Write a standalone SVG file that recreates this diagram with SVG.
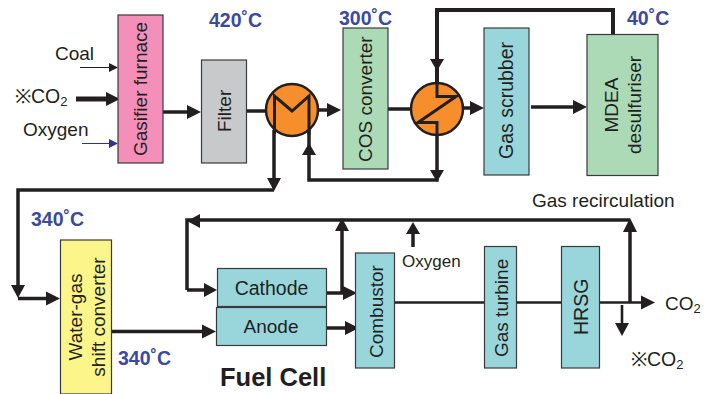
<svg xmlns="http://www.w3.org/2000/svg" width="710" height="394" viewBox="0 0 710 394">
<style>
text{font-family:"Liberation Sans",Arial,sans-serif;font-size:19px;fill:#231f20}
.t{font-weight:bold;fill:#3c4a9e;font-size:19.500px}
.box{stroke:#3a3a3a;stroke-width:1.2}
.c{fill:#98d6dc}
.g{fill:#acdab6}
.l{fill:none;stroke:#231f20;stroke-width:3.5}
.i{fill:none;stroke:#231f20;stroke-width:3}
.m{fill:none;stroke:#231f20;stroke-width:2.6}
.hx{fill:#f68e2b;stroke:#231f20;stroke-width:2.5}
.a{fill:#231f20}
.s{font-size:13px}
</style>
<g id="connectors">
<path d="M80 67.500H112" fill="none" stroke="#231f20" stroke-width="1"/><path class="a" d="M118 67.500l-9-4.500v9z"/>
<path d="M76 99H108" fill="none" stroke="#231f20" stroke-width="5"/><path class="a" d="M120 99l-14-7v14z"/>
<path d="M82 143.500H112" fill="none" stroke="#2b3590" stroke-width="1"/><path fill="#2b3590" d="M118 143.500l-9-4.500v9z"/>
<path class="l" d="M163 112H190"/><path class="a" d="M201 112l-14-7v14z"/>
<path class="l" d="M246 111H266"/>
<path class="l" d="M319 110H330"/><path class="a" d="M341 110l-14-7v14z"/>
<path class="l" d="M388 109H411"/>
<path class="l" d="M463 108H474"/><path class="a" d="M484 108l-14-7v14z"/>
<path class="l" d="M531 107H576"/><path class="a" d="M587 107l-14-7v14z"/>
<path d="M613 34V10H437V85" fill="none" stroke="#231f20" stroke-width="4"/><path class="a" d="M437 71l-7-12h14z"/>
<path class="l" d="M437 130V180H309V130"/><path class="a" d="M437 182l-7-12h14z"/><path class="a" d="M309 143l-7 12h14z"/>
<path class="l" d="M274 130V188M274 190H18V288"/><path class="a" d="M274 191l-7-13h14z"/><path class="a" d="M18 298l-7-13h14z"/>
<path class="l" d="M18 298.500H50"/><path class="a" d="M60 298.500l-14-7v14z"/>
<path class="l" d="M112 331.500H206"/><path class="a" d="M216 331.500l-14-7v14z"/>
<path class="l" d="M630 220H187V290M187 290H208"/><path class="a" d="M187 221l13-7v14z"/><path class="a" d="M217 290l-13-7v14z"/>
<path class="l" d="M323 293H347"/><path class="a" d="M357 293l-14-7v14z"/>
<path class="l" d="M342 293V228"/><path class="a" d="M342 218l-7 13h14z"/>
<path class="l" d="M326 328H349"/><path class="a" d="M359 328l-14-7v14z"/>
<path class="l" d="M413 247V230"/><path class="a" d="M413 222l-7 12h14z"/>
<path class="m" d="M394 302.500H645"/><path class="a" d="M655 302.500l-14-7v14z"/>
<path class="l" d="M630 302V228"/><path class="a" d="M630 218l-7 14h14z"/>
<path class="m" d="M622 305V326"/><path class="a" d="M622 336l-7-13h14z"/>
</g>
<g id="gasifier"><rect class="box" x="118" y="15" width="45" height="148" fill="#f48fb9"/><text transform="translate(147 156) rotate(-90)">Gasifier furnace</text></g>
<g id="filter"><rect class="box" x="201.500" y="60" width="45" height="103" fill="#c8c9cb"/><text transform="translate(231 132) rotate(-90)">Filter</text></g>
<g id="hx1"><circle class="hx" cx="292" cy="110" r="26"/><path class="i" d="M274.500 134V96L292 111L309 96V135"/></g>
<g id="cos"><rect class="box g" x="343" y="28" width="45" height="141"/><text transform="translate(372 162) rotate(-90)">COS converter</text></g>
<g id="hx2"><circle class="hx" cx="437" cy="109" r="26"/><path class="i" d="M437 83V96.500H456L418 122.500H437V135"/></g>
<g id="scrubber"><rect class="box c" x="484" y="28" width="45" height="147"/><text transform="translate(513 159) rotate(-90)" style="font-size:19.500px">Gas scrubber</text></g>
<g id="mdea"><rect class="box g" x="587" y="34.500" width="71" height="141"/><text transform="translate(618 105) rotate(-90)" text-anchor="middle"><tspan x="0" y="0">MDEA</tspan><tspan x="0" y="23">desulfuriser</tspan></text></g>
<g id="watergas"><rect class="box" x="60.500" y="240" width="51" height="154" fill="#fcf58a"/><text transform="translate(82 317) rotate(-90)" text-anchor="middle"><tspan x="0" y="0">Water-gas</tspan><tspan x="0" y="23">shift converter</tspan></text></g>
<g id="cathode"><rect class="box c" x="217.500" y="268.500" width="109" height="38"/><text x="271.500" y="295" text-anchor="middle" style="font-size:19.500px">Cathode</text></g>
<g id="anode"><rect class="box c" x="216.500" y="307.500" width="110" height="38"/><text x="271" y="333" text-anchor="middle">Anode</text></g>
<g id="combustor"><rect class="box c" x="355.500" y="253" width="39" height="115"/><text transform="translate(383 358) rotate(-90)">Combustor</text></g>
<g id="turbine"><rect class="box c" x="484.500" y="246.500" width="32" height="121.500"/><text transform="translate(508 357) rotate(-90)">Gas turbine</text></g>
<g id="hrsg"><rect class="box c" x="561.500" y="246.500" width="38" height="121.500"/><text transform="translate(588 335) rotate(-90)" style="font-size:19.500px">HRSG</text></g>
<g id="labels">
<text x="55" y="60">Coal</text>
<text x="15" y="103" style="font-size:19.500px">※CO<tspan dy="3" class="s">2</tspan></text>
<text x="23" y="136">Oxygen</text>
<text class="t" x="209" y="27">420˚C</text>
<text class="t" x="339" y="25">300˚C</text>
<text class="t" x="627" y="25">40˚C</text>
<text class="t" x="31" y="226">340˚C</text>
<text class="t" x="118" y="365">340˚C</text>
<text x="532" y="207">Gas recirculation</text>
<text x="402" y="267" style="font-size:17px">Oxygen</text>
<text x="665" y="310">CO<tspan dy="3" class="s">2</tspan></text>
<text x="631" y="366" style="font-size:19.500px">※CO<tspan dy="3" class="s">2</tspan></text>
<text x="220" y="386" style="font-size:25.500px;font-weight:bold">Fuel Cell</text>
</g>
</svg>
